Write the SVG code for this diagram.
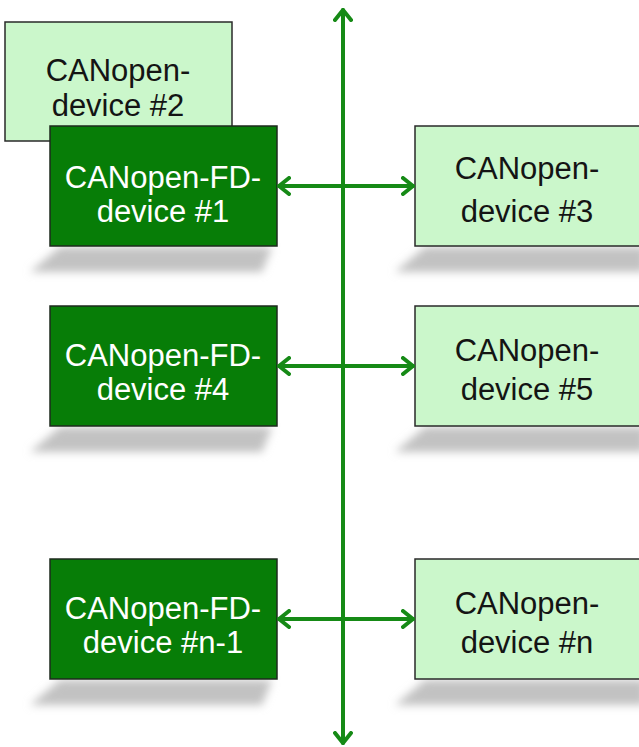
<svg xmlns="http://www.w3.org/2000/svg" width="639" height="747" viewBox="0 0 639 747">
<style>
.dark{fill:#077d07;stroke:#1e2a1e;stroke-width:1.5}
.light{fill:#cbf7cb;stroke:#2a2a2a;stroke-width:1.5}
.tw{font-family:"Liberation Sans",Arial,sans-serif;font-size:31px;fill:#ffffff;text-anchor:middle}
.tb{font-family:"Liberation Sans",Arial,sans-serif;font-size:31px;fill:#141414;text-anchor:middle}
.sh{fill:#c2c2c2;filter:url(#blur)}
.bus{stroke:#168a16;stroke-width:4;fill:none;stroke-linecap:round;stroke-linejoin:round}
</style>
<defs>
<filter id="blur" x="-20%" y="-50%" width="140%" height="200%"><feGaussianBlur stdDeviation="4.5"/></filter>
<marker id="ah" viewBox="0 0 14 20" refX="12" refY="10" markerWidth="14" markerHeight="20" markerUnits="userSpaceOnUse" orient="auto-start-reverse">
<path d="M2,2 L12,10 L2,18" fill="none" stroke="#168a16" stroke-width="4" stroke-linecap="round" stroke-linejoin="round"/>
</marker>
</defs>
<rect width="639" height="747" fill="#ffffff"/>
<g id="shadows">
<polygon class="sh" points="60,247 272,247 262,272 30,272"/>
<polygon class="sh" points="425,247 645,247 645,272 395,272"/>
<polygon class="sh" points="60,427 272,427 262,452 30,452"/>
<polygon class="sh" points="425,427 645,427 645,452 395,452"/>
<polygon class="sh" points="60,680 272,680 262,705 30,705"/>
<polygon class="sh" points="425,680 645,680 645,705 395,705"/>
</g>
<g id="node2"><rect class="light" x="5" y="22" width="227" height="119"/><text class="tb" x="118" y="81">CANopen-</text><text class="tb" x="118" y="116">device #2</text></g>
<g id="node1"><rect class="dark" x="50" y="126" width="227" height="120"/><text class="tw" x="163" y="188">CANopen-FD-</text><text class="tw" x="163" y="222">device #1</text></g>
<g id="node3"><rect class="light" x="415" y="126" width="230" height="120"/><text class="tb" x="527" y="179">CANopen-</text><text class="tb" x="527" y="222">device #3</text></g>
<g id="node4"><rect class="dark" x="50" y="306" width="227" height="120"/><text class="tw" x="163" y="366">CANopen-FD-</text><text class="tw" x="163" y="400">device #4</text></g>
<g id="node5"><rect class="light" x="415" y="306" width="230" height="120"/><text class="tb" x="527" y="361">CANopen-</text><text class="tb" x="527" y="400">device #5</text></g>
<g id="node6"><rect class="dark" x="50" y="559" width="227" height="120"/><text class="tw" x="163" y="619">CANopen-FD-</text><text class="tw" x="163" y="653">device #n-1</text></g>
<g id="node7"><rect class="light" x="415" y="559" width="230" height="120"/><text class="tb" x="527" y="614">CANopen-</text><text class="tb" x="527" y="653">device #n</text></g>
<g id="connectors">
<line class="bus" x1="343" y1="10" x2="343" y2="743" marker-start="url(#ah)" marker-end="url(#ah)"/>
<line class="bus" x1="279" y1="186" x2="413" y2="186" marker-start="url(#ah)" marker-end="url(#ah)"/>
<line class="bus" x1="279" y1="366" x2="413" y2="366" marker-start="url(#ah)" marker-end="url(#ah)"/>
<line class="bus" x1="279" y1="619" x2="413" y2="619" marker-start="url(#ah)" marker-end="url(#ah)"/>
</g>
</svg>
